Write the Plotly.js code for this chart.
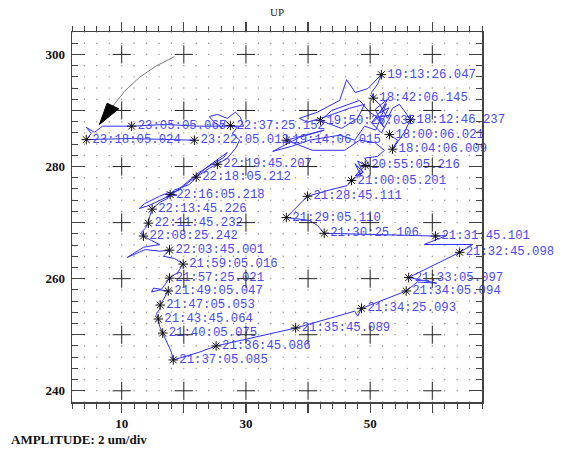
<!DOCTYPE html>
<html><head><meta charset="utf-8">
<script src="https://cdn.plot.ly/plotly-3.0.1.min.js"></script>
<style>html,body{margin:0;padding:0;background:#fff}#chart{width:563px;height:454px}</style>
</head><body><div id="chart"></div>
<script>
// Orbit trajectory (x, y in um)
const pathX = [53.1,54.4,53.6,55.5,56.5,55.4,54.7,53.6,52.8,51.5,
50.5,50.2,51.2,51.8,49.6,47.6,46.2,45.1,41.5,38.6,
39.9,43.4,46.7,49.1,48.0,45.4,42.0,43.8,48.3,49.9,
52.0,53.0,51.5,52.8,50.8,52.2,51.0,53.4,51.8,50.2,52.6,
50.9,49.1,47.5,45.1,40.2,37.3,34.3,38.6,42.6,
36.5,40.7,45.9,48.3,50.7,52.3,51.2,49.1,49.9,49.2,
48.0,48.8,47.6,48.5,
48.3,47.6,48.9,47.0,46.3,43.4,39.9,36.5,40.2,41.5,
42.6,60.5,62.3,58.7,66.5,64.4,56.2,60.7,57.6,55.8,
48.6,48.0,47.5,38.0,25.2,22.5,18.3,18.0,17.5,16.9,
16.6,16.1,15.9,15.6,16.1,16.2,16.6,17.0,17.5,16.1,
14.8,15.1,16.4,17.0,17.7,19.0,19.9,18.5,16.7,17.7,
16.1,13.8,10.9,13.5,16.1,14.8,13.5,13.2,13.8,14.3,
14.5,14.9,16.1,17.4,17.8,18.6,17.2,18.9,17.6,16.1,13.7,12.8,14.5,17.7,
20.1,24.1,27.0,26.4,22.5,19.0,17.4,18.5,20.9,22.0,
24.1,25.4,27.0,28.3,29.0,27.8,28.6,27.5,26.7,26.1,
24.9,24.1,25.4,27.0,28.3,29.1,29.6,22.5,16.9,11.6,
6.9,5.6,4.3,5.1,4.3,11.2,16.1,21.7];
const pathY = [285.7,284.7,283.1,286.1,288.4,290.0,291.1,290.4,288.6,291.1,
292.2,293.2,294.7,296.4,293.9,293.2,295.5,291.8,289.7,288.6,
287.9,289.1,290.4,291.1,288.6,286.8,288.2,290.0,291.8,289.7,
288.2,290.5,289.5,292.0,290.2,287.0,288.8,289.2,286.0,287.8,291.2,
286.5,287.2,284.7,285.6,284.7,283.6,282.7,285.2,286.5,
284.7,282.9,282.9,284.7,284.3,282.9,281.8,281.5,280.2,280.2,
281.0,279.0,280.5,278.3,
279.3,278.3,279.0,277.5,276.6,275.8,274.7,270.9,270.4,269.5,
268.1,267.6,267.7,266.1,266.1,264.7,260.2,259.2,259.4,257.8,
254.7,253.3,254.2,251.2,248.0,246.9,245.5,246.9,248.1,249.4,
250.3,251.5,252.8,253.8,254.5,255.3,256.1,256.9,257.8,258.0,
257.6,258.3,258.1,259.0,260.1,261.1,262.6,263.6,264.0,265.1,
264.9,265.2,263.8,265.6,266.1,266.8,267.6,268.3,269.0,269.9,
271.1,272.4,273.6,274.3,275.0,275.6,274.6,274.9,275.4,274.7,273.4,272.5,273.1,274.8,
276.6,280.2,282.5,281.6,279.0,275.8,274.7,275.8,276.8,278.1,
279.7,280.4,281.5,283.2,284.7,285.9,287.0,287.3,288.2,287.0,
287.9,288.9,289.3,288.6,289.7,288.8,287.2,287.2,287.5,287.2,
287.2,286.1,287.0,285.9,284.8,285.0,284.8,284.7];

// Time-stamped samples
const labelTimes = ['18:00:06.021','18:04:06.009','18:12:46.237','18:42:06.145','19:13:26.047',
'19:14:06.015','19:50:26.035','20:55:05.216','21:00:05.201','21:28:45.111','21:29:05.110',
'21:30:25.106','21:31:45.101','21:32:45.098','21:33:05.097','21:34:05.094','21:34:25.093',
'21:35:45.089','21:36:45.086','21:37:05.085','21:40:05.075','21:43:45.064','21:47:05.053',
'21:49:05.047','21:57:25.021','21:59:05.016','22:03:45.001','22:08:25.242','22:11:45.232',
'22:13:45.226','22:16:05.218','22:18:05.212','22:19:45.207','22:37:25.152','23:05:05.065',
'23:18:05.024','23:22:05.012'];
const labelX = [53.1,53.6,56.5,50.5,51.8,36.5,42.0,49.2,47.0,39.9,36.5,42.6,60.5,64.4,56.2,55.8,
48.6,38.0,25.2,18.3,16.6,15.9,16.2,17.5,17.7,19.9,17.7,13.5,14.3,14.9,17.8,22.0,25.4,27.5,11.6,4.3,21.7];
const labelY = [285.7,283.1,288.4,292.2,296.4,284.7,288.2,280.2,277.5,274.7,270.9,268.1,267.6,264.7,
260.2,257.8,254.7,251.2,248.0,245.5,250.3,252.8,255.3,257.8,260.1,262.6,265.1,267.6,269.9,272.4,
275.0,278.1,280.4,287.3,287.2,284.8,284.7];

const xTickVals = [10,20,30,40,50,60];
const xTickText = ['10','','30','','50',''];
const yTickVals = [240,250,260,270,280,290,300];
const yTickText = ['240','','260','','280','','300'];
const xRange = [2,68];
const yRange = [238,304];
const dotStep = 2;

// grid dots and crosses derived from axis ticks
const dotX=[], dotY=[];
for (let x=xRange[0]; x<=xRange[1]; x+=dotStep) for (let y=yRange[0]; y<=yRange[1]; y+=dotStep){dotX.push(x);dotY.push(y);}
const crossX=[], crossY=[];
xTickVals.forEach(x=>yTickVals.forEach(y=>{crossX.push(x);crossY.push(y);}));

// arrow decoration (data coords)
const arrowStart=[18.5,299.6], arrowCtrl=[12.05,296.5], arrowEnd=[8.58,290.8];
const headA=[7.65,291.3], headB=[9.52,290.3], headTip=[6.41,287.5];

const frame='#444';
const traces = [
 {x:dotX,y:dotY,mode:'markers',marker:{symbol:'circle',size:1.4,color:'#8a8a8a',line:{width:0}},hoverinfo:'skip'},
 {x:pathX,y:pathY,mode:'lines',line:{color:'#2e2eff',width:1},hoverinfo:'skip'},
 {x:labelX,y:labelY,text:labelTimes,mode:'markers+text',textposition:'middle right',cliponaxis:false,
  marker:{symbol:'asterisk-open',size:8,line:{color:'#111',width:1},color:'#111'},
  textfont:{family:'Liberation Mono, DejaVu Sans Mono, monospace',size:12.3,color:'#4a4af0'},hoverinfo:'skip'},
 {x:crossX,y:crossY,mode:'markers',marker:{symbol:'cross-thin-open',size:13,color:'#222',line:{color:'#222',width:1}},hoverinfo:'skip'}
];
const axisFont={family:'Liberation Serif, serif',size:13,color:'#111',weight:'bold'};
const layout = {
 width:563,height:454,margin:{l:72,r:81,t:32,b:52},
 paper_bgcolor:'#fff',plot_bgcolor:'#fff',showlegend:false,
 title:{text:'UP',x:0.5,xref:'paper',xanchor:'center',y:1-12.5/454,yanchor:'middle',
   font:{family:'Liberation Serif, serif',size:11,color:'#222'}},
 xaxis:{range:xRange,showline:true,linecolor:frame,linewidth:1.5,mirror:'ticks',
   ticks:'outside',ticklen:9,tickwidth:1.3,tickcolor:frame,tickvals:xTickVals,ticktext:xTickText,
   minor:{tick0:0,dtick:2,ticks:'outside',ticklen:5,tickwidth:1,tickcolor:frame,showgrid:false},
   showgrid:false,zeroline:false,tickfont:axisFont,fixedrange:true},
 yaxis:{range:yRange,showline:true,linecolor:frame,linewidth:1.5,mirror:'ticks',
   ticks:'inside',ticklen:13,tickwidth:1.3,tickcolor:frame,tickvals:yTickVals,ticktext:yTickText,
   ticklabelstandoff:3,
   minor:{tick0:0,dtick:2,ticks:'inside',ticklen:6,tickwidth:1,tickcolor:frame,showgrid:false},
   showgrid:false,zeroline:false,tickfont:axisFont,fixedrange:true},
 shapes:[
  {type:'path',xref:'x',yref:'y',layer:'above',
   path:`M ${arrowStart[0]},${arrowStart[1]} Q ${arrowCtrl[0]},${arrowCtrl[1]} ${arrowEnd[0]},${arrowEnd[1]}`,
   line:{color:'#777',width:1}},
  {type:'path',xref:'x',yref:'y',layer:'above',
   path:`M ${headA[0]},${headA[1]} L ${headB[0]},${headB[1]} L ${headTip[0]},${headTip[1]} Z`,
   fillcolor:'#000',line:{color:'#000',width:1}}
 ],
 annotations:[
  {text:'AMPLITUDE: 2 um/div',xref:'paper',yref:'paper',x:(9-72)/410,y:(402-439)/370,
   xanchor:'left',yanchor:'middle',showarrow:false,
   font:{family:'Liberation Serif, serif',size:13,color:'#111',weight:'bold'}}
 ]
};
Plotly.newPlot('chart',traces,layout,{staticPlot:true,displayModeBar:false});
</script></body></html>
